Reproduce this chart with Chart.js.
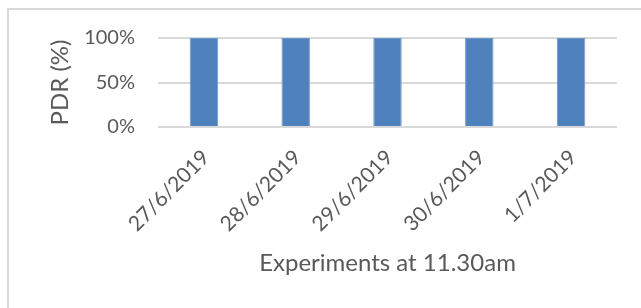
<!DOCTYPE html>
<html>
<head>
<meta charset="utf-8">
<script src="https://cdn.jsdelivr.net/npm/chart.js@4"></script>
<style>
html,body{margin:0;padding:0;background:#fff;width:641px;height:308px;overflow:hidden;}
#frame{position:absolute;left:7px;top:8px;width:640px;height:310px;border-left:2px solid #d9d9d9;border-top:2px solid #d9d9d9;}
#wrap{position:absolute;left:0;top:0;width:641px;height:308px;}
</style>
</head>
<body>
<div id="frame"></div>
<div id="wrap"><canvas id="c" width="641" height="308"></canvas></div>
<script>
const categories = ["27/6/2019", "28/6/2019", "29/6/2019", "30/6/2019", "1/7/2019"];
const pdrValues = [100, 100, 100, 100, 100];
const yTicks = [0, 50, 100];
const xTitle = "Experiments at 11.30am";
const yTitle = "PDR (%)";

const textColor = "#595959";
const fontFamily = "Lato, 'Open Sans', sans-serif";

new Chart(document.getElementById("c"), {
  type: "bar",
  data: {
    labels: categories,
    datasets: [{
      data: pdrValues,
      backgroundColor: "#4f81bd",
      borderColor: "#6f97cc",
      borderWidth: 1,
      barPercentage: 0.31,
      categoryPercentage: 1.0
    }]
  },
  options: {
    responsive: false,
    animation: false,
    events: [],
    layout: { padding: { left: 0, right: 24, top: 38, bottom: 0 } },
    plugins: { legend: { display: false }, tooltip: { enabled: false }, title: { display: false } },
    scales: {
      x: {
        offset: true,
        grid: { display: false, drawTicks: false },
        border: { display: false },
        ticks: {
          autoSkip: false,
          maxRotation: 45,
          minRotation: 45,
          padding: 18,
          labelOffset: 2,
          color: textColor,
          font: { family: fontFamily, size: 21 }
        },
        title: {
          display: true,
          text: xTitle,
          color: textColor,
          font: { family: fontFamily, size: 24 },
          padding: { top: 0, bottom: 30 }
        },
        afterFit: (s) => { s.height = 181; }
      },
      y: {
        min: 0,
        max: 100,
        afterBuildTicks: (s) => { s.ticks = yTicks.map(v => ({ value: v })); },
        grid: { color: "#d9d9d9", lineWidth: 2, drawTicks: false },
        border: { display: false },
        ticks: {
          padding: 23,
          color: textColor,
          font: { family: fontFamily, size: 20 },
          callback: (v) => v + "%"
        },
        title: {
          display: true,
          text: yTitle,
          color: textColor,
          font: { family: fontFamily, size: 24 },
          padding: { top: 46, bottom: 0 }
        },
        afterFit: (s) => { s.width = 158; }
      }
    }
  }
});
</script>
</body>
</html>
